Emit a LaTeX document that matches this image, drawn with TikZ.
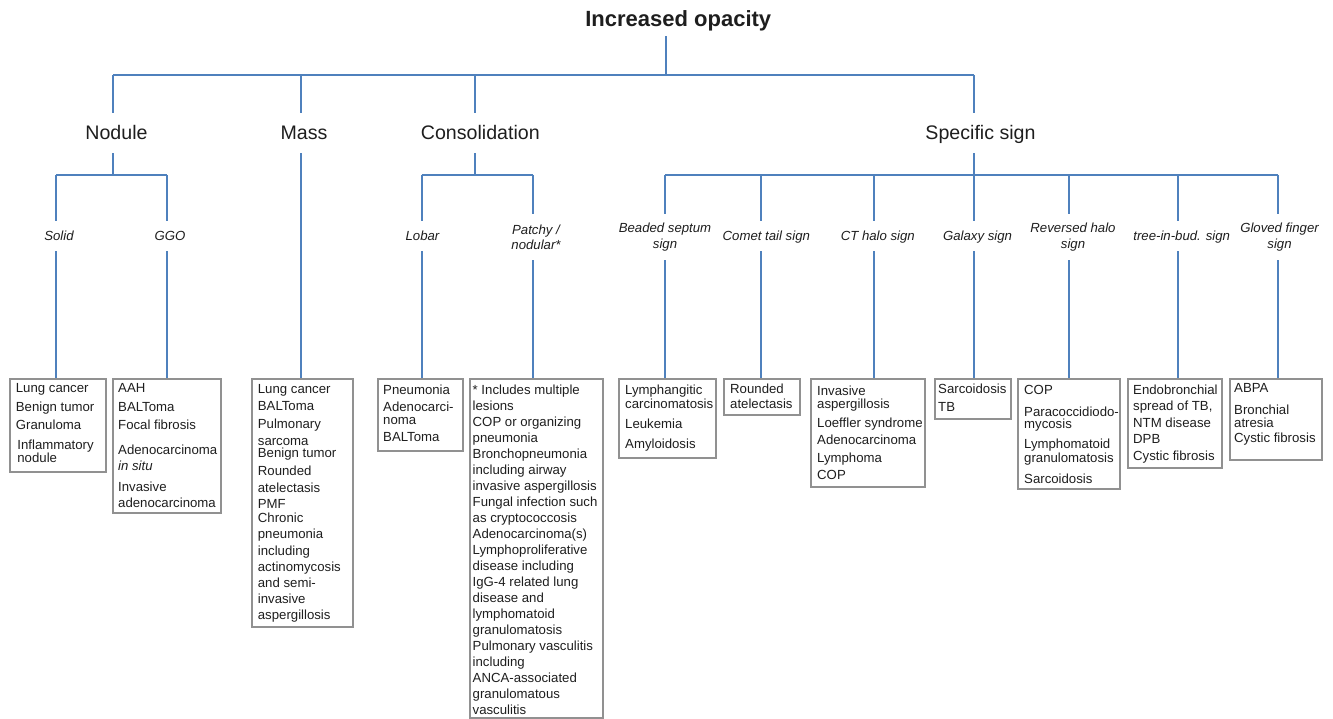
\documentclass[tikz,border=0pt]{standalone}
\usepackage{fontspec}
\setmainfont{Liberation Sans}
\definecolor{linkblue}{RGB}{79,129,189}
\definecolor{boxgray}{RGB}{145,145,145}
\definecolor{ink}{RGB}{30,30,30}
\begin{document}
\begin{tikzpicture}[x=1pt,y=-1pt,
  link/.style={draw=linkblue,line width=2pt},
  toptitle/.style={font=\fontsize{22}{26}\selectfont\bfseries,text=ink,anchor=base,inner xsep=0pt,inner ysep=4.7pt,text depth=4.6pt},
  lvlone/.style={font=\fontsize{19.6}{23}\selectfont,text=ink,text height=14pt,text depth=0pt,minimum height=40pt,inner sep=0pt},
  lvltwo/.style={font=\fontsize{13.2}{15.3}\selectfont\itshape,text=ink,text height=10pt,text depth=0pt,minimum height=30pt,inner sep=0pt},
  lvltwob/.style={font=\fontsize{13.2}{15.3}\selectfont\itshape,text=ink,align=center,minimum height=46.3pt,inner sep=0pt},
  listbox/.style={draw=boxgray,line width=2pt,inner sep=0pt,anchor=north west},
  listtext/.style={font=\fontsize{13.2}{16.3}\selectfont,text=ink,align=left,anchor=north west,inner sep=0pt},
]
\useasboundingbox (0,0) rectangle (1333,719);

% ---------- title ----------
\node[toptitle] (title) at (678.3,26.7) {Increased opacity};
\coordinate (top) at (666,75);
\coordinate (b1) at (113.3,75);
\coordinate (b2) at (301,75);
\coordinate (b3) at (475.3,75);
\coordinate (b4) at (974,75);
\draw[link] (title.south -| top) -- (top);
\draw[link] (b1) -- (b4);

% ---------- level 1 ----------
\node[lvlone] (nodule) at (116.5,133) {Nodule};
\node[lvlone] (mass) at (304,133) {Mass};
\node[lvlone] (consol) at (480.3,133) {Consolidation};
\node[lvlone] (spec) at (980.5,133) {Specific sign};
\draw[link] (b1) -- (b1 |- nodule.north);
\draw[link] (b2) -- (b2 |- mass.north);
\draw[link] (b3) -- (b3 |- consol.north);
\draw[link] (b4) -- (b4 |- spec.north);

% ---------- level 2 junctions ----------
\coordinate (n0) at (113.3,175);
\coordinate (na) at (56,175);
\coordinate (nb) at (167.3,175);
\coordinate (c0) at (475.3,175);
\coordinate (ca) at (421.7,175);
\coordinate (cb) at (533.3,175);
\coordinate (s0) at (974,175);
\coordinate (sa) at (665,175);
\coordinate (sb) at (761.3,175);
\coordinate (sc) at (874.3,175);
\coordinate (sd) at (974,175);
\coordinate (se) at (1069.3,175);
\coordinate (sf) at (1178.3,175);
\coordinate (sg) at (1277.7,175);
\draw[link] (n0 |- nodule.south) -- (n0);
\draw[link] (na) -- (nb);
\draw[link] (c0 |- consol.south) -- (c0);
\draw[link] (ca) -- (cb);
\draw[link] (s0 |- spec.south) -- (s0);
\draw[link] (sa) -- (sg);

% ---------- level 2 labels ----------
\node[lvltwo] (solid) at (59,236) {Solid};
\node[lvltwo] (ggo) at (170,236) {GGO};
\node[lvltwo] (lobar) at (422.5,236) {Lobar};
\node[lvltwob] (patchy) at (536,237) {Patchy /\\nodular*};
\node[lvltwob] (beaded) at (665,237) {Beaded septum\\sign};
\node[lvltwo] (comet) at (766.3,236) {Comet tail sign};
\node[lvltwo] (cthalo) at (877.8,236) {CT halo sign};
\node[lvltwo] (galaxy) at (977.5,236) {Galaxy sign};
\node[lvltwob] (revhalo) at (1073,237) {Reversed halo\\sign};
\node[lvltwo] (tree) at (1181.7,236) {tree-in-bud. sign};
\node[lvltwob] (gloved) at (1279.5,237) {Gloved finger\\sign};

\draw[link] (na) -- (na |- solid.north);
\draw[link] (nb) -- (nb |- ggo.north);
\draw[link] (ca) -- (ca |- lobar.north);
\draw[link] (cb) -- (cb |- patchy.north);
\draw[link] (sa) -- (sa |- beaded.north);
\draw[link] (sb) -- (sb |- comet.north);
\draw[link] (sc) -- (sc |- cthalo.north);
\draw[link] (sd) -- (sd |- galaxy.north);
\draw[link] (se) -- (se |- revhalo.north);
\draw[link] (sf) -- (sf |- tree.north);
\draw[link] (sg) -- (sg |- gloved.north);

% ---------- boxes ----------
\node[listbox,minimum width=96pt,minimum height=93.5pt] (bSolid) at (9,377.5) {};
\node[listbox,minimum width=108pt,minimum height=134.5pt] (bGGO) at (112,377.5) {};
\node[listbox,minimum width=101pt,minimum height=248.5pt] (bMass) at (251,377.5) {};
\node[listbox,minimum width=85pt,minimum height=72.5pt] (bLobar) at (377,377.5) {};
\node[listbox,minimum width=133pt,minimum height=339.5pt] (bPatchy) at (469,377.5) {};
\node[listbox,minimum width=97pt,minimum height=79.5pt] (bBeaded) at (618,377.5) {};
\node[listbox,minimum width=76pt,minimum height=36.5pt] (bComet) at (723,377.5) {};
\node[listbox,minimum width=114pt,minimum height=108.5pt] (bCT) at (810,377.5) {};
\node[listbox,minimum width=76pt,minimum height=40.5pt] (bGalaxy) at (934,377.5) {};
\node[listbox,minimum width=102pt,minimum height=110.5pt] (bRev) at (1017,377.5) {};
\node[listbox,minimum width=94pt,minimum height=89.5pt] (bTree) at (1127,377.5) {};
\node[listbox,minimum width=92pt,minimum height=81.5pt] (bGloved) at (1229,377.5) {};

\draw[link] (na |- solid.south) -- (na |- bSolid.north);
\draw[link] (nb |- ggo.south) -- (nb |- bGGO.north);
\draw[link] (b2 |- mass.south) -- (b2 |- bMass.north);
\draw[link] (ca |- lobar.south) -- (ca |- bLobar.north);
\draw[link] (cb |- patchy.south) -- (cb |- bPatchy.north);
\draw[link] (sa |- beaded.south) -- (sa |- bBeaded.north);
\draw[link] (sb |- comet.south) -- (sb |- bComet.north);
\draw[link] (sc |- cthalo.south) -- (sc |- bCT.north);
\draw[link] (sd |- galaxy.south) -- (sd |- bGalaxy.north);
\draw[link] (se |- revhalo.south) -- (se |- bRev.north);
\draw[link] (sf |- tree.south) -- (sf |- bTree.north);
\draw[link] (sg |- gloved.south) -- (sg |- bGloved.north);

% ---------- box texts ----------
\node[listtext] (tSolid) at (15.7,383.7) {Lung cancer\\[2.7pt]Benign tumor\\[1.7pt]Granuloma\\[3.7pt]\hspace*{1.5pt}Inflammatory\\[-3.3pt]\hspace*{1.5pt}nodule};
\node[listtext] (tGGO) at (118,383.7) {AAH\\[2.7pt]BALToma\\[1.7pt]Focal fibrosis\\[8.7pt]Adenocarcinoma\\[-0.3pt]\textit{in situ}\\[4.7pt]Invasive\\[-0.3pt]adenocarcinoma};
\node[listtext,font=\fontsize{13.2}{16}\selectfont] (tMass) at (257.7,384.7) {Lung cancer\\[1pt]BALToma\\[2pt]Pulmonary\\[1pt]sarcoma\\[-4pt]Benign tumor\\[2pt]Rounded\\[1pt]atelectasis\\PMF\\[-2pt]Chronic\\pneumonia\\[1pt]including\\actinomycosis\\and semi-\\invasive\\aspergillosis};
\node[listtext] (tLobar) at (383,384.7) {Pneumonia\\[0.7pt]Adenocarci-\\[-3.3pt]noma\\[0.7pt]BALToma};
\node[listtext,font=\fontsize{13.2}{16}\selectfont] (tPatchy) at (472.5,384.7) {* Includes multiple\\lesions\\COP or organizing\\pneumonia\\Bronchopneumonia\\including airway\\invasive aspergillosis\\Fungal infection such\\as cryptococcosis\\Adenocarcinoma(s)\\Lymphoproliferative\\disease including\\IgG-4 related lung\\disease and\\lymphomatoid\\granulomatosis\\Pulmonary vasculitis\\including\\ANCA-associated\\granulomatous\\vasculitis};
\node[listtext] (tBeaded) at (625,384.7) {Lymphangitic\\[-2.3pt]carcinomatosis\\[3.7pt]Leukemia\\[3.7pt]Amyloidosis};
\node[listtext] (tComet) at (730,383.7) {Rounded\\[-1.3pt]atelectasis};
\node[listtext] (tCT) at (817,385.7) {Invasive\\[-3.3pt]aspergillosis\\[2.7pt]Loeffler syndrome\\[0.7pt]Adenocarcinoma\\[1.7pt]Lymphoma\\[0.7pt]COP};
\node[listtext] (tGalaxy) at (938,383.7) {Sarcoidosis\\[1.7pt]TB};
\node[listtext] (tRev) at (1024,384.7) {COP\\[5.7pt]Paracoccidiodo-\\[-4.3pt]mycosis\\[3.7pt]Lymphomatoid\\[-2.3pt]granulomatosis\\[4.7pt]Sarcoidosis};
\node[listtext] (tTree) at (1133,384.7) {Endobronchial\\[-0.3pt]spread of TB,\\[0.7pt]NTM disease\\[-0.3pt]DPB\\[0.7pt]Cystic fibrosis};
\node[listtext] (tGloved) at (1234,383.7) {ABPA\\[5.7pt]Bronchial\\[-3.3pt]atresia\\[-1.3pt]Cystic fibrosis};
\end{tikzpicture}
\end{document}
